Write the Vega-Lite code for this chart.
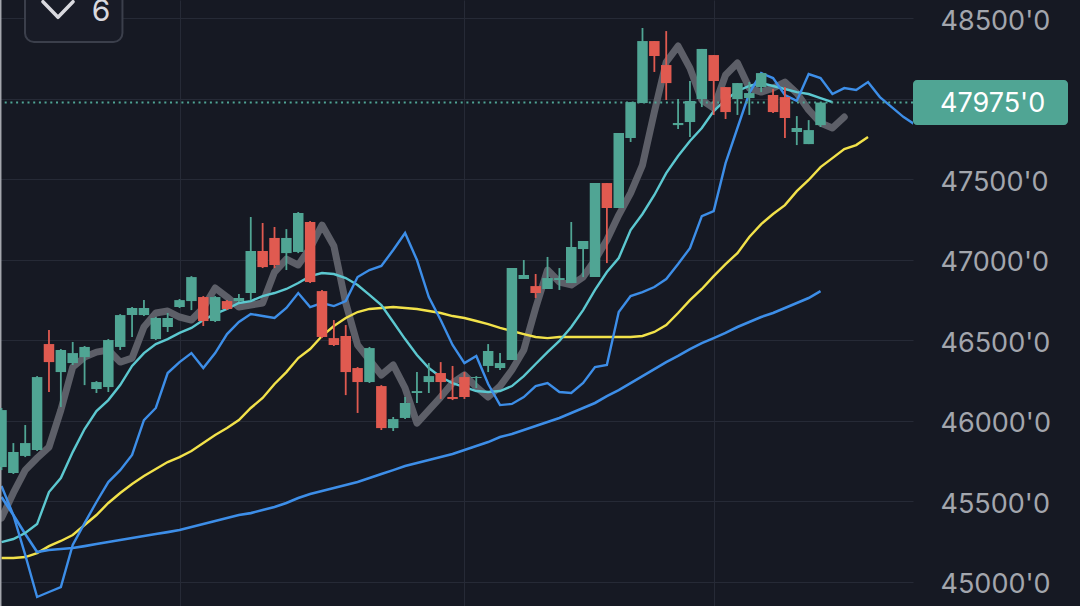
{
  "$schema": "https://vega.github.io/schema/vega-lite/v6.json",
  "width": 913,
  "height": 606,
  "autosize": {"type": "none"},
  "padding": {"left": 0, "top": 0, "right": 167, "bottom": 0},
  "background": "#161923",
  "config": {
    "view": {"stroke": null},
    "font": "Inter",
    "axis": {"gridColor": "#262a36", "gridWidth": 1, "domain": false, "ticks": false, "title": null, "labelFont": "Inter"}
  },
  "datasets": {
    "candles": [
      {"i":0,"o":45711,"h":46078,"l":45692,"c":46065},
      {"i":1,"o":45674,"h":45860,"l":45668,"c":45804},
      {"i":2,"o":45780,"h":45972,"l":45773,"c":45860},
      {"i":3,"o":45817,"h":46276,"l":45811,"c":46270},
      {"i":4,"o":46475,"h":46562,"l":46177,"c":46363},
      {"i":5,"o":46301,"h":46444,"l":46084,"c":46438},
      {"i":6,"o":46357,"h":46488,"l":46345,"c":46419},
      {"i":7,"o":46394,"h":46463,"l":46220,"c":46457},
      {"i":8,"o":46196,"h":46245,"l":46171,"c":46239},
      {"i":9,"o":46208,"h":46506,"l":46177,"c":46500},
      {"i":10,"o":46457,"h":46661,"l":46438,"c":46655},
      {"i":11,"o":46655,"h":46705,"l":46519,"c":46699},
      {"i":12,"o":46655,"h":46748,"l":46649,"c":46699},
      {"i":13,"o":46506,"h":46643,"l":46500,"c":46637},
      {"i":14,"o":46581,"h":46668,"l":46550,"c":46637},
      {"i":15,"o":46705,"h":46755,"l":46699,"c":46748},
      {"i":16,"o":46742,"h":46897,"l":46686,"c":46891},
      {"i":17,"o":46767,"h":46773,"l":46587,"c":46618},
      {"i":18,"o":46618,"h":46773,"l":46612,"c":46767},
      {"i":19,"o":46742,"h":46748,"l":46686,"c":46693},
      {"i":20,"o":46742,"h":46786,"l":46736,"c":46761},
      {"i":21,"o":46792,"h":47264,"l":46748,"c":47053},
      {"i":22,"o":47053,"h":47227,"l":46947,"c":46953},
      {"i":23,"o":47134,"h":47202,"l":46947,"c":46966},
      {"i":24,"o":47040,"h":47189,"l":46935,"c":47134},
      {"i":25,"o":47047,"h":47295,"l":47040,"c":47289},
      {"i":26,"o":47233,"h":47239,"l":46854,"c":46860},
      {"i":27,"o":46804,"h":46811,"l":46512,"c":46519},
      {"i":28,"o":46512,"h":46624,"l":46463,"c":46469},
      {"i":29,"o":46525,"h":46593,"l":46158,"c":46301},
      {"i":30,"o":46326,"h":46332,"l":46047,"c":46239},
      {"i":31,"o":46239,"h":46457,"l":46233,"c":46450},
      {"i":32,"o":46214,"h":46220,"l":45941,"c":45953},
      {"i":33,"o":45953,"h":46022,"l":45935,"c":46009},
      {"i":34,"o":46016,"h":46146,"l":46009,"c":46109},
      {"i":35,"o":46171,"h":46301,"l":46109,"c":46183},
      {"i":36,"o":46239,"h":46357,"l":46171,"c":46276},
      {"i":37,"o":46295,"h":46363,"l":46134,"c":46239},
      {"i":38,"o":46146,"h":46339,"l":46127,"c":46134},
      {"i":39,"o":46270,"h":46301,"l":46134,"c":46146},
      {"i":40,"o":46264,"h":46276,"l":46202,"c":46270},
      {"i":41,"o":46339,"h":46475,"l":46301,"c":46432},
      {"i":42,"o":46326,"h":46419,"l":46314,"c":46357},
      {"i":43,"o":46376,"h":46947,"l":46376,"c":46947},
      {"i":44,"o":46879,"h":46997,"l":46879,"c":46904},
      {"i":45,"o":46835,"h":46910,"l":46761,"c":46792},
      {"i":46,"o":46817,"h":47016,"l":46817,"c":46885},
      {"i":47,"o":46873,"h":46947,"l":46811,"c":46885},
      {"i":48,"o":46854,"h":47233,"l":46854,"c":47078},
      {"i":49,"o":47065,"h":47115,"l":46891,"c":47115},
      {"i":50,"o":46891,"h":47475,"l":46891,"c":47475},
      {"i":51,"o":47475,"h":47475,"l":46978,"c":47320},
      {"i":52,"o":47320,"h":47786,"l":47320,"c":47786},
      {"i":53,"o":47755,"h":47978,"l":47730,"c":47978},
      {"i":54,"o":47972,"h":48438,"l":47972,"c":48357},
      {"i":55,"o":48357,"h":48357,"l":48165,"c":48264},
      {"i":56,"o":48208,"h":48419,"l":47991,"c":48096},
      {"i":57,"o":47835,"h":47997,"l":47811,"c":47848},
      {"i":58,"o":47854,"h":48109,"l":47761,"c":47985},
      {"i":59,"o":47997,"h":48308,"l":47947,"c":48308},
      {"i":60,"o":48270,"h":48270,"l":47898,"c":48109},
      {"i":61,"o":48071,"h":48071,"l":47873,"c":47916},
      {"i":62,"o":47997,"h":48096,"l":47898,"c":48096},
      {"i":63,"o":48003,"h":48103,"l":47898,"c":48034},
      {"i":64,"o":48071,"h":48158,"l":48040,"c":48158},
      {"i":65,"o":48022,"h":48059,"l":47910,"c":47916},
      {"i":66,"o":48009,"h":48071,"l":47755,"c":47879},
      {"i":67,"o":47792,"h":47891,"l":47711,"c":47817},
      {"i":68,"o":47717,"h":47866,"l":47717,"c":47804},
      {"i":69,"o":47835,"h":47975,"l":47823,"c":47975}
    ],
    "ma": [
      {"i":0,"g":45394,"cy":45245,"bz":45593,"ye":45146,"bl":45525},
      {"i":1,"g":45550,"cy":45264,"bz":45413,"ye":45146,"bl":45413},
      {"i":2,"g":45692,"cy":45301,"bz":45165,"ye":45152,"bl":45295},
      {"i":3,"g":45767,"cy":45357,"bz":44904,"ye":45177,"bl":45183},
      {"i":4,"g":45835,"cy":45556,"bz":44935,"ye":45220,"bl":45196},
      {"i":5,"g":46065,"cy":45643,"bz":44966,"ye":45252,"bl":45202},
      {"i":6,"g":46332,"cy":45804,"bz":45227,"ye":45289,"bl":45208},
      {"i":7,"g":46394,"cy":45947,"bz":45363,"ye":45351,"bl":45220},
      {"i":8,"g":46425,"cy":46059,"bz":45494,"ye":45413,"bl":45233},
      {"i":9,"g":46438,"cy":46127,"bz":45618,"ye":45488,"bl":45245},
      {"i":10,"g":46363,"cy":46220,"bz":45692,"ye":45550,"bl":45258},
      {"i":11,"g":46388,"cy":46339,"bz":45786,"ye":45606,"bl":45270},
      {"i":12,"g":46581,"cy":46419,"bz":46003,"ye":45655,"bl":45283},
      {"i":13,"g":46668,"cy":46475,"bz":46078,"ye":45699,"bl":45295},
      {"i":14,"g":46680,"cy":46506,"bz":46295,"ye":45742,"bl":45307},
      {"i":15,"g":46643,"cy":46544,"bz":46363,"ye":45773,"bl":45320},
      {"i":16,"g":46624,"cy":46575,"bz":46419,"ye":45811,"bl":45339},
      {"i":17,"g":46699,"cy":46624,"bz":46326,"ye":45860,"bl":45357},
      {"i":18,"g":46823,"cy":46662,"bz":46419,"ye":45910,"bl":45376},
      {"i":19,"g":46767,"cy":46693,"bz":46537,"ye":45953,"bl":45394},
      {"i":20,"g":46705,"cy":46730,"bz":46612,"ye":46003,"bl":45413},
      {"i":21,"g":46717,"cy":46742,"bz":46662,"ye":46078,"bl":45425},
      {"i":22,"g":46730,"cy":46773,"bz":46649,"ye":46140,"bl":45444},
      {"i":23,"g":46922,"cy":46792,"bz":46637,"ye":46227,"bl":45463},
      {"i":24,"g":47003,"cy":46817,"bz":46699,"ye":46301,"bl":45488},
      {"i":25,"g":46966,"cy":46854,"bz":46792,"ye":46388,"bl":45519},
      {"i":26,"g":47071,"cy":46897,"bz":46705,"ye":46444,"bl":45543},
      {"i":27,"g":47214,"cy":46916,"bz":46730,"ye":46525,"bl":45562},
      {"i":28,"g":47084,"cy":46910,"bz":46711,"ye":46587,"bl":45581},
      {"i":29,"g":46730,"cy":46885,"bz":46742,"ye":46637,"bl":45599},
      {"i":30,"g":46469,"cy":46842,"bz":46891,"ye":46674,"bl":45618},
      {"i":31,"g":46376,"cy":46780,"bz":46935,"ye":46693,"bl":45643},
      {"i":32,"g":46283,"cy":46717,"bz":46960,"ye":46699,"bl":45668},
      {"i":33,"g":46345,"cy":46612,"bz":47059,"ye":46705,"bl":45692},
      {"i":34,"g":46202,"cy":46506,"bz":47165,"ye":46699,"bl":45717},
      {"i":35,"g":45984,"cy":46407,"bz":46997,"ye":46693,"bl":45736},
      {"i":36,"g":46065,"cy":46326,"bz":46767,"ye":46680,"bl":45755},
      {"i":37,"g":46146,"cy":46270,"bz":46624,"ye":46668,"bl":45773},
      {"i":38,"g":46233,"cy":46233,"bz":46469,"ye":46649,"bl":45792},
      {"i":39,"g":46283,"cy":46208,"bz":46357,"ye":46637,"bl":45817},
      {"i":40,"g":46208,"cy":46183,"bz":46401,"ye":46618,"bl":45842},
      {"i":41,"g":46146,"cy":46177,"bz":46227,"ye":46599,"bl":45866},
      {"i":42,"g":46214,"cy":46183,"bz":46096,"ye":46575,"bl":45898},
      {"i":43,"g":46314,"cy":46214,"bz":46103,"ye":46556,"bl":45916},
      {"i":44,"g":46438,"cy":46276,"bz":46146,"ye":46537,"bl":45941},
      {"i":45,"g":46699,"cy":46351,"bz":46214,"ye":46519,"bl":45966},
      {"i":46,"g":46935,"cy":46425,"bz":46233,"ye":46512,"bl":45991},
      {"i":47,"g":46860,"cy":46494,"bz":46177,"ye":46519,"bl":46016},
      {"i":48,"g":46842,"cy":46581,"bz":46171,"ye":46519,"bl":46047},
      {"i":49,"g":46891,"cy":46686,"bz":46233,"ye":46519,"bl":46078},
      {"i":50,"g":46997,"cy":46811,"bz":46332,"ye":46519,"bl":46109},
      {"i":51,"g":47121,"cy":46922,"bz":46345,"ye":46519,"bl":46152},
      {"i":52,"g":47276,"cy":47009,"bz":46674,"ye":46519,"bl":46189},
      {"i":53,"g":47413,"cy":47183,"bz":46773,"ye":46519,"bl":46233},
      {"i":54,"g":47587,"cy":47283,"bz":46798,"ye":46525,"bl":46276},
      {"i":55,"g":47916,"cy":47401,"bz":46829,"ye":46550,"bl":46320},
      {"i":56,"g":48227,"cy":47537,"bz":46879,"ye":46593,"bl":46363},
      {"i":57,"g":48326,"cy":47643,"bz":46972,"ye":46668,"bl":46401},
      {"i":58,"g":48189,"cy":47736,"bz":47071,"ye":46748,"bl":46444},
      {"i":59,"g":47991,"cy":47817,"bz":47270,"ye":46817,"bl":46481},
      {"i":60,"g":47941,"cy":47922,"bz":47301,"ye":46897,"bl":46512},
      {"i":61,"g":48146,"cy":47991,"bz":47599,"ye":46972,"bl":46544},
      {"i":62,"g":48221,"cy":48047,"bz":47817,"ye":47040,"bl":46581},
      {"i":63,"g":48065,"cy":48078,"bz":48034,"ye":47140,"bl":46612},
      {"i":64,"g":48040,"cy":48096,"bz":48158,"ye":47220,"bl":46643},
      {"i":65,"g":48065,"cy":48078,"bz":48127,"ye":47283,"bl":46668},
      {"i":66,"g":48102,"cy":48059,"bz":48022,"ye":47338,"bl":46699},
      {"i":67,"g":48034,"cy":48040,"bz":47985,"ye":47425,"bl":46730},
      {"i":68,"g":47929,"cy":48028,"bz":48152,"ye":47494,"bl":46761},
      {"i":69,"g":47848,"cy":48003,"bz":48127,"ye":47574,"bl":46804},
      {"i":70,"g":47817,"cy":47978,"bz":48028,"ye":47630,"bl":null},
      {"i":71,"g":47885,"cy":null,"bz":48065,"ye":47686,"bl":null},
      {"i":72,"g":null,"cy":null,"bz":48053,"ye":47711,"bl":null},
      {"i":73,"g":null,"cy":null,"bz":48102,"ye":47761,"bl":null},
      {"i":74,"g":null,"cy":null,"bz":48009,"ye":null,"bl":null},
      {"i":75,"g":null,"cy":null,"bz":47947,"ye":null,"bl":null},
      {"i":76,"g":null,"cy":null,"bz":47885,"ye":null,"bl":null},
      {"i":77,"g":null,"cy":null,"bz":47836,"ye":null,"bl":null}
    ]
  },
  "layer": [
    {
      "data": {"name": "ma"},
      "mark": {"type": "line", "color": "#5d5f68", "strokeWidth": 7, "strokeJoin": "round", "strokeCap": "round", "clip": true},
      "encoding": {
        "x": {
          "field": "i", "type": "quantitative",
          "scale": {"domain": [-0.126, 76.79], "nice": false, "zero": false, "padding": 0},
          "axis": {"orient": "bottom", "values": [15, 39, 60], "labels": false, "grid": true}
        },
        "y": {
          "field": "g", "type": "quantitative",
          "scale": {"domain": [44848, 48612], "nice": false, "zero": false, "padding": 0},
          "axis": {
            "orient": "right",
            "values": [45000, 45500, 46000, 46500, 47000, 47500, 48000, 48500],
            "labelExpr": "datum.value == 48000 ? '' : datum.value + \"'0\"",
            "labelAlign": "left",
            "labelBaseline": "middle",
            "labelPadding": 27,
            "labelOffset": 3,
            "labelFontSize": 27,
            "labelColor": "#a3a6ad",
            "grid": true
          }
        }
      }
    },
    {
      "data": {"name": "ma"},
      "mark": {"type": "line", "color": "#f2e24a", "strokeWidth": 2.4, "clip": true},
      "encoding": {"x": {"field": "i", "type": "quantitative"}, "y": {"field": "ye", "type": "quantitative"}}
    },
    {
      "data": {"name": "ma"},
      "mark": {"type": "line", "color": "#3d8ee8", "strokeWidth": 2.6, "clip": true},
      "encoding": {"x": {"field": "i", "type": "quantitative"}, "y": {"field": "bl", "type": "quantitative"}}
    },
    {
      "data": {"name": "ma"},
      "mark": {"type": "line", "color": "#5cc8d0", "strokeWidth": 2.4, "clip": true},
      "encoding": {"x": {"field": "i", "type": "quantitative"}, "y": {"field": "cy", "type": "quantitative"}}
    },
    {
      "data": {"name": "ma"},
      "mark": {"type": "line", "color": "#3d8ee8", "strokeWidth": 2.4, "clip": true},
      "encoding": {"x": {"field": "i", "type": "quantitative"}, "y": {"field": "bz", "type": "quantitative"}}
    },
    {
      "data": {"values": [{}]},
      "mark": {"type": "rule", "color": "#4fa595", "strokeWidth": 2, "strokeDash": [2, 3.7]},
      "encoding": {"y": {"datum": 47975}}
    },
    {
      "data": {"values": [{}]},
      "mark": {"type": "rule", "color": "#a4a6ad", "strokeWidth": 1.5},
      "encoding": {"x": {"datum": -0.065}}
    },
    {
      "data": {"name": "candles"},
      "mark": {"type": "rule", "strokeWidth": 1.8},
      "encoding": {
        "x": {"field": "i", "type": "quantitative"},
        "y": {"field": "l", "type": "quantitative"},
        "y2": {"field": "h"},
        "color": {"condition": {"test": "datum.c < datum.o", "value": "#e05a50"}, "value": "#50a594"}
      }
    },
    {
      "data": {"name": "candles"},
      "mark": {"type": "bar", "size": 10.5},
      "encoding": {
        "x": {"field": "i", "type": "quantitative"},
        "y": {"field": "o", "type": "quantitative"},
        "y2": {"field": "c"},
        "color": {"condition": {"test": "datum.c < datum.o", "value": "#e05a50"}, "value": "#50a594"}
      }
    },
    {
      "data": {"values": [{}]},
      "mark": {"type": "rect", "color": "#50a594", "cornerRadius": 4, "x": "width", "x2": {"expr": "width + 155"}},
      "encoding": {"y": {"datum": 48115}, "y2": {"datum": 47835}}
    },
    {
      "data": {"values": [{}]},
      "mark": {"type": "text", "x": {"expr": "width + 27"}, "align": "left", "baseline": "middle", "dy": 1, "fontSize": 27, "color": "#ffffff", "text": "47975'0"},
      "encoding": {"y": {"datum": 47975}}
    },
    {
      "data": {"values": [{}]},
      "mark": {"type": "rect", "fill": "#181b26", "stroke": "#3b3f4b", "strokeWidth": 2, "cornerRadius": 9},
      "encoding": {"x": {"datum": 1.98}, "x2": {"datum": 10.19}, "y": {"datum": 48690}, "y2": {"datum": 48351}}
    },
    {
      "data": {"values": [{}]},
      "mark": {"type": "point", "shape": "M-1,-0.52L0,0.52L1,-0.52", "size": 900, "filled": false, "stroke": "#d9d9de", "strokeWidth": 3.5, "strokeCap": "round", "strokeJoin": "round", "opacity": 1},
      "encoding": {"x": {"datum": 4.76}, "y": {"datum": 48553}}
    },
    {
      "data": {"values": [{}]},
      "mark": {"type": "text", "align": "center", "baseline": "alphabetic", "fontSize": 30, "color": "#d9d9de", "text": "6"},
      "encoding": {"x": {"datum": 8.38}, "y": {"datum": 48481}}
    }
  ]
}
